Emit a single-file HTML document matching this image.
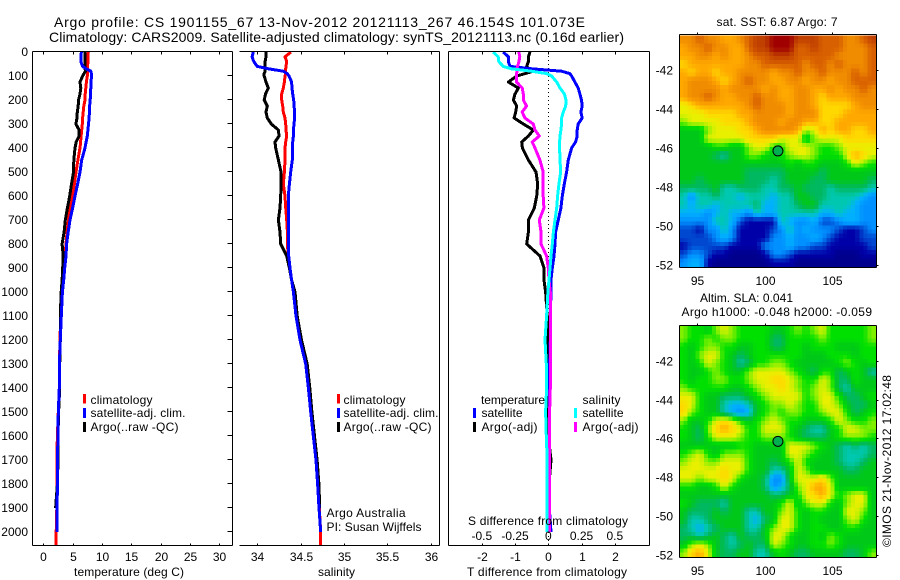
<!DOCTYPE html>
<html lang="en">
<head>
<meta charset="utf-8">
<title>Argo profile 1901155_67</title>
<style>
html,body{margin:0;padding:0;background:#fff;width:900px;height:580px;overflow:hidden}
svg{display:block;font-family:"Liberation Sans",sans-serif;font-size:12px;fill:#000}
</style>
</head>
<body>
<svg id="fig" xmlns="http://www.w3.org/2000/svg" width="900" height="580" viewBox="0 0 900 580">
<rect width="900" height="580" fill="#fff"/>
<g id="maps"></g>
<g id="series"></g>
<g id="axes" shape-rendering="crispEdges"></g>
<g id="ticklabels"></g>

<text x="54" y="27" font-size="14" textLength="531">Argo profile: CS 1901155_67 13-Nov-2012 20121113_267 46.154S 101.073E</text>
<text x="49" y="42" font-size="14" textLength="575">Climatology: CARS2009. Satellite-adjusted climatology: synTS_20121113.nc (0.16d earlier)</text>

<text x="74" y="576" textLength="110">temperature (deg C)</text>
<text x="318" y="576" textLength="37">salinity</text>
<text x="467" y="576" textLength="160">T difference from climatology</text>
<text x="468" y="525" textLength="160">S difference from climatology</text>

<g shape-rendering="crispEdges">
<rect x="83" y="394" width="3" height="9.5" fill="#f00"/>
<rect x="83" y="408" width="3" height="10" fill="#00f"/>
<rect x="83" y="422" width="3" height="10" fill="#000"/>
</g>
<text x="90.5" y="404" textLength="62">climatology</text>
<text x="90.5" y="417" textLength="95">satellite-adj. clim.</text>
<text x="90.5" y="431" textLength="88">Argo(..raw -QC)</text>

<g shape-rendering="crispEdges">
<rect x="337" y="394" width="3" height="9.5" fill="#f00"/>
<rect x="337" y="408" width="3" height="10" fill="#00f"/>
<rect x="337" y="422" width="3" height="10" fill="#000"/>
</g>
<text x="343.5" y="404" textLength="62">climatology</text>
<text x="343.5" y="417" textLength="95">satellite-adj. clim.</text>
<text x="343.5" y="431" textLength="88">Argo(..raw -QC)</text>
<text x="326.5" y="517" textLength="79">Argo Australia</text>
<text x="326.5" y="531" textLength="95">PI: Susan Wijffels</text>

<g shape-rendering="crispEdges">
<rect x="473" y="408" width="3" height="10" fill="#00f"/>
<rect x="473" y="422" width="3" height="10" fill="#000"/>
<rect x="574" y="408" width="3" height="10" fill="#0ff"/>
<rect x="574" y="422" width="3" height="10" fill="#f0f"/>
</g>
<text x="481" y="404" textLength="64">temperature</text>
<text x="481.5" y="417" textLength="41">satellite</text>
<text x="481.5" y="431" textLength="56">Argo(-adj)</text>
<text x="582.5" y="404" textLength="38">salinity</text>
<text x="582.5" y="417" textLength="41">satellite</text>
<text x="582.5" y="431" textLength="56">Argo(-adj)</text>

<text x="716.5" y="26" textLength="121">sat. SST: 6.87 Argo: 7</text>
<text x="700" y="302" textLength="93">Altim. SLA: 0.041</text>
<text x="681.5" y="316" textLength="190.5">Argo h1000: -0.048 h2000: -0.059</text>
<text transform="translate(891,547) rotate(-90)" x="0" y="0" textLength="172">©IMOS 21-Nov-2012 17:02:48</text>
</svg>

<script>
// ---- profile data ----
const depths = [0,20,40,60,70,80,90,100,125,150,175,200,225,250,275,300,325,350,375,400,450,500,550,600,650,700,750,800,850,900,950,1000,1100,1200,1300,1400,1500,1600,1700,1800,1900,2000,2055];

const tempClim = [7.67,7.6,7.6,7.55,7.55,7.5,7.5,7.5,7.35,7.25,7.15,7.1,6.9,6.8,6.7,6.65,6.55,6.45,6.35,6.25,5.9,5.57,5.3,5.0,4.6,4.27,4.05,3.87,3.7,3.53,3.3,3.13,2.96,2.85,2.75,2.73,2.56,2.4,2.3,2.35,2.3,2.2,2.2];
const tempSat = [6.48,6.45,6.4,6.7,7.3,8.1,8.2,8.2,8.15,8.1,8.05,8.0,7.9,7.85,7.8,7.7,7.6,7.5,7.3,7.1,6.55,6.25,5.85,5.4,5.0,4.55,4.25,3.98,3.87,3.65,3.48,3.25,3.07,2.9,2.75,2.73,2.56,2.5,2.4,2.4,2.35,2.35,null];
const tempArgo = [7.1,7.1,7.1,7.1,7.1,7.2,6.95,6.7,6.25,6.4,6.25,6.0,5.95,5.8,5.75,5.55,6.1,6.1,5.6,5.4,5.2,5.15,4.8,4.5,4.1,3.75,3.55,3.2,3.4,3.3,3.2,3.05,2.9,2.9,2.8,2.8,2.6,2.5,2.5,2.4,2.1,null,null];

const salClim = [34.389,34.32,34.339,34.331,34.327,34.327,34.327,34.32,34.312,34.30,34.281,34.281,34.293,34.30,34.32,34.327,34.331,34.339,34.327,34.32,34.32,34.312,34.30,34.32,34.327,34.339,34.347,34.347,34.358,34.377,34.396,34.423,34.45,34.50,34.56,34.59,34.62,34.65,34.68,34.70,34.715,34.731,34.731];
const salSat = [33.954,33.94,33.96,34.0,34.127,34.30,34.345,34.366,34.396,34.40,34.408,34.42,34.425,34.43,34.43,34.423,34.416,34.416,34.408,34.404,34.404,34.385,34.37,34.358,34.358,34.362,34.362,34.362,34.362,34.377,34.396,34.416,34.446,34.493,34.558,34.589,34.616,34.646,34.677,34.696,34.712,34.731,null];
const salArgo = [34.10,34.10,34.09,34.09,34.09,34.09,34.08,34.08,34.10,34.127,34.095,34.08,34.115,34.10,34.115,34.162,34.243,34.25,34.204,34.212,34.243,34.273,34.273,34.27,34.262,34.243,34.262,34.27,34.339,34.37,34.396,34.435,34.46,34.51,34.575,34.605,34.63,34.66,34.69,34.71,34.72,null,null];

const diffTSat = [-1.36,-1.2,-1.2,-1.15,-0.5,0.4,0.65,0.7,0.8,0.9,0.95,1.0,1.02,0.98,1.02,0.9,0.87,0.87,0.82,0.7,0.6,0.55,0.48,0.42,0.38,0.3,0.22,0.2,0.17,0.12,0.08,0.08,0.06,0.06,0.04,0.04,0.04,0.04,0.03,0.03,0.03,0.08,null];
const diffTArgo = [-0.55,-0.6,-0.6,-0.65,-0.6,-0.45,-0.7,-0.95,-1.2,-0.9,-1.0,-1.05,-0.95,-0.98,-1.03,-0.75,-0.45,-0.6,-0.8,-0.78,-0.6,-0.37,-0.32,-0.35,-0.42,-0.6,-0.6,-0.65,-0.25,-0.13,-0.13,-0.08,-0.03,-0.03,-0.03,-0.02,-0.01,0,0.08,0.02,0.02,0.02,null];
const diffSSat = [-0.415,-0.377,-0.372,-0.339,-0.276,-0.126,-0.013,0.025,0.063,0.088,0.121,0.133,0.131,0.113,0.1,0.1,0.095,0.088,0.085,0.085,0.088,0.093,0.08,0.07,0.063,0.05,0.038,0.03,0.02,0.013,0.005,-0.003,-0.013,-0.025,-0.015,-0.013,-0.02,-0.015,-0.008,-0.01,-0.01,-0.008,null];
const diffSArgo = [-0.221,-0.214,-0.221,-0.231,-0.239,-0.234,-0.239,-0.239,-0.239,-0.196,-0.188,-0.188,-0.163,-0.196,-0.176,-0.113,-0.1,-0.068,-0.121,-0.1,-0.063,-0.038,-0.038,-0.038,-0.033,-0.068,-0.055,-0.055,-0.013,0,0.005,0.015,0.015,0.015,0.015,0.015,0.01,0.01,0.01,0.01,0.01,0.01,null];

// ---- tick labels ----
const depthTicks = [0,100,200,300,400,500,600,700,800,900,1000,1100,1200,1300,1400,1500,1600,1700,1800,1900,2000];
const tempTicks = [0,5,10,15,20,25,30];
const salTicks = [34,34.5,35,35.5,36];
const diffTTicks = [-2,-1,0,1,2];
const diffSTicks = [-0.5,-0.25,0,0.25,0.5];
const lonTicks = [95,100,105];
const latTicks = [-42,-44,-46,-48,-50,-52];

// ---- map data (colour level per cell, north to south, west to east) ----
const argoLon = 101.0;
const argoLat = -46.15;
const sstLevels = [
[13,13,14,13,13,12,12,13,14,15,15,16,16,16,15,15,15,14,14,14,13,13,14,15],
[12,13,13,14,13,13,12,12,14,15,15,16,16,16,14,14,15,14,14,14,13,13,13,14],
[12,12,13,13,12,13,12,12,13,14,14,15,15,15,14,14,14,14,14,13,13,13,13,14],
[11,12,12,12,12,12,12,12,13,13,14,14,14,14,14,13,14,14,13,14,13,13,13,14],
[12,11,12,12,11,12,12,13,13,13,13,12,13,13,14,13,13,14,13,13,13,14,13,14],
[12,13,13,13,12,11,12,13,14,13,13,12,12,13,13,12,13,13,12,13,13,14,14,14],
[12,13,13,13,13,12,13,13,13,13,12,13,12,12,13,13,12,12,13,12,13,13,14,13],
[12,13,13,14,13,12,12,13,13,14,13,13,12,12,13,13,12,11,12,12,12,13,13,13],
[10,11,12,12,12,12,12,12,13,14,13,13,13,12,13,13,12,11,11,11,11,12,13,13],
[10,10,10,11,11,11,11,12,12,13,13,13,13,12,13,13,13,11,11,11,12,12,12,12],
[9,10,10,10,10,11,11,11,12,13,13,13,12,13,13,12,12,11,11,12,12,12,12,12],
[7,7,7,9,10,10,10,11,11,12,13,13,13,13,12,9,10,12,11,12,12,11,11,12],
[7,7,7,10,10,10,10,10,11,11,11,11,10,10,10,7,9,10,10,10,11,11,11,11],
[7,7,7,7,8,8,7,7,9,10,10,8,8,10,10,10,9,8,8,9,10,10,10,10],
[7,7,7,7,6,5,7,7,9,9,8,7,8,9,10,10,9,8,8,8,10,12,11,10],
[7,7,7,7,7,7,7,7,7,7,7,7,7,8,7,8,8,7,7,7,8,10,9,8],
[7,7,7,7,7,7,7,7,6,6,6,6,6,7,7,7,7,6,7,7,7,7,7,7],
[7,7,6,7,7,7,7,7,6,6,6,5,6,7,7,7,6,6,7,7,7,7,7,6],
[6,6,6,6,7,5,5,6,6,6,5,5,6,6,7,6,6,6,5,6,6,6,6,5],
[5,3,5,5,6,5,5,4,5,5,5,4,5,5,7,7,6,6,5,5,5,5,4,3],
[5,4,5,5,4,5,5,5,5,6,4,4,5,5,6,7,7,5,5,5,5,4,3,3],
[4,4,4,3,4,5,4,4,3,5,4,4,5,5,5,5,5,4,4,5,4,4,3,3],
[3,3,3,3,5,5,4,2,1,1,1,1,5,4,3,3,4,2,2,3,4,4,3,3],
[2,2,1,3,3,5,3,1,1,1,1,2,3,5,3,4,3,3,3,2,1,1,2,3],
[2,2,2,2,3,4,3,1,1,1,1,3,3,4,3,3,4,3,2,1,1,1,2,2],
[1,2,2,2,2,2,1,1,1,1,3,3,3,4,3,3,2,2,1,1,1,1,1,2],
[2,3,3,2,1,1,0,0,0,0,1,3,3,2,1,1,1,1,1,0,0,0,1,1],
[3,4,4,1,0,0,0,0,0,0,0,1,1,1,0,0,0,0,0,0,0,0,0,0]
];
const slaLevels = [
[9,8,8,7,9,10,9,8,8,8,8,7,7,8,9,8,9,10,8,8,8,8,8,9],
[9,8,8,9,8,9,9,8,8,8,8,6,6,8,8,8,8,9,8,8,8,8,8,9],
[8,7,8,9,9,8,8,7,7,8,8,6,6,8,8,7,8,8,8,7,7,7,8,8],
[8,7,9,10,10,8,7,6,7,8,8,8,8,8,8,7,7,7,8,8,8,7,8,8],
[8,7,8,10,9,8,7,5,6,8,8,9,9,8,7,7,7,7,7,8,9,8,7,8],
[8,7,7,8,9,8,7,7,9,10,10,10,10,9,8,7,6,8,8,6,7,8,7,5],
[8,7,8,8,9,9,8,8,9,10,10,11,11,10,9,8,8,10,9,6,6,8,7,7],
[9,8,8,8,8,8,7,7,8,9,10,10,11,10,9,8,9,10,9,6,5,7,7,7],
[10,10,8,7,7,6,6,6,7,8,9,10,10,10,10,8,9,10,10,8,6,6,7,8],
[11,10,8,7,7,5,4,4,5,7,8,9,9,10,9,8,8,10,10,9,7,6,6,7],
[11,9,8,7,7,5,4,3,4,7,8,9,8,9,9,8,8,9,10,10,8,6,7,8],
[9,7,7,8,10,11,10,8,7,8,9,10,9,8,8,7,7,7,8,10,9,8,8,9],
[8,7,6,9,11,12,11,10,8,8,10,10,10,8,7,6,5,5,7,8,10,10,9,9],
[8,7,6,8,10,10,10,9,8,8,9,9,9,8,7,6,6,6,7,8,9,9,9,8],
[7,7,7,7,7,7,7,8,8,7,7,7,7,10,10,10,9,8,7,6,5,6,5,6],
[8,9,10,8,7,9,9,9,8,7,7,7,7,10,10,9,8,7,7,6,5,5,5,6],
[9,10,10,9,9,10,10,10,8,7,7,6,7,8,10,8,7,7,7,6,5,5,6,7],
[10,10,10,10,10,11,10,10,8,7,7,5,5,7,10,9,7,7,7,7,6,6,7,7],
[10,10,9,10,10,11,10,8,7,7,6,3,3,7,10,10,10,11,9,7,7,7,7,7],
[8,8,7,7,8,10,8,7,7,7,6,3,4,6,9,10,12,12,10,7,7,7,7,7],
[7,7,7,7,7,7,7,7,7,7,7,6,6,7,8,10,11,12,10,8,9,10,10,7],
[8,7,6,6,6,5,7,7,7,7,7,7,8,10,7,9,10,10,8,7,9,10,10,7],
[7,6,6,6,7,6,7,7,5,5,7,7,9,10,8,7,8,8,7,7,10,10,9,7],
[7,5,5,6,7,7,7,7,5,4,6,7,10,10,8,7,8,7,7,7,9,10,8,7],
[6,5,4,5,6,7,7,7,5,5,7,9,10,10,8,7,8,8,7,7,8,8,7,7],
[6,6,5,6,7,6,5,7,6,6,7,10,10,8,7,7,8,7,9,8,7,7,7,7],
[7,9,10,9,7,6,5,6,7,6,6,10,9,8,7,7,8,8,9,8,7,7,7,7],
[9,11,12,10,7,6,6,7,7,5,5,7,8,7,6,6,7,7,7,7,6,6,7,9]
];

// ---- scales ----
const NS = 'http://www.w3.org/2000/svg';
const mapColors = ['#00008c','#0000a8','#0048d0','#0090ff','#00b0ff','#00c8b0','#00b860','#00c818','#00e000','#80f000','#e8f000','#ffd800','#ffa800','#f08c00','#d86000','#c04000','#a00000'];
function colorAt(level) {
  const i = Math.max(0, Math.min(mapColors.length - 2, Math.floor(level)));
  const t = Math.max(0, Math.min(1, level - i));
  const a = mapColors[i], b = mapColors[i + 1];
  let out = 'rgb(';
  for (let k = 0; k < 3; k++) {
    const ca = parseInt(a.substr(1 + 2 * k, 2), 16);
    const cb = parseInt(b.substr(1 + 2 * k, 2), 16);
    out += Math.round(ca + (cb - ca) * t) + (k < 2 ? ',' : ')');
  }
  return out;
}
function linear(d0, d1, p0, p1) { return v => p0 + (v - d0) * (p1 - p0) / (d1 - d0); }
const yDepth = linear(0, 2000, 52, 532);
const xTemp = linear(0, 30, 43.3, 219.3);
const xSal = linear(34, 36, 257.3, 430.7);
const xDT = linear(-2, 2, 481.8, 614.8);
const xDS = linear(-0.5, 0.5, 481.8, 614.8);
const xLon = linear(95, 105, 697.3, 831.7);
const ySst = linear(-42, -52, 70, 265);
const ySla = linear(-42, -52, 360.7, 555);

function make(tag, attrs, parent, text) {
  const el = document.createElementNS(NS, tag);
  for (const k in attrs) el.setAttribute(k, attrs[k]);
  if (text !== undefined) el.textContent = text;
  parent.appendChild(el);
  return el;
}

// ---- series ----
const seriesG = document.getElementById('series');
function drawSeries(values, xf, color, name, strokeW) {
  const pts = [];
  values.forEach((v, i) => { if (v !== null) pts.push(xf(v).toFixed(1) + ',' + yDepth(depths[i]).toFixed(1)); });
  const el = make('polyline', {points: pts.join(' '), fill: 'none', stroke: color, 'stroke-width': strokeW, 'stroke-linejoin': 'round', 'shape-rendering': 'crispEdges'}, seriesG);
  
  
}
drawSeries(tempClim, xTemp, '#f00', 'temperature-climatology-line', 3);
drawSeries(tempArgo, xTemp, '#000', 'temperature-argo-line', 3);
drawSeries(tempSat, xTemp, '#00f', 'temperature-satellite-line', 3);
drawSeries(salClim, xSal, '#f00', 'salinity-climatology-line', 3);
drawSeries(salArgo, xSal, '#000', 'salinity-argo-line', 3);
drawSeries(salSat, xSal, '#00f', 'salinity-satellite-line', 3);

const zeroLine = make('line', {x1: xDT(0), x2: xDT(0), y1: 52, y2: 545, stroke: '#000', 'stroke-width': 1, 'stroke-dasharray': '1 3', 'shape-rendering': 'crispEdges'}, seriesG);



drawSeries(diffTArgo, xDT, '#000', 'difference-temperature-argo-line', 3);
drawSeries(diffTSat, xDT, '#00f', 'difference-temperature-satellite-line', 3);
drawSeries(diffSArgo, xDS, '#f0f', 'difference-salinity-argo-line', 3);
drawSeries(diffSSat, xDS, '#0ff', 'difference-salinity-satellite-line', 3);

// ---- axes ----
const axesG = document.getElementById('axes');
const labelsG = document.getElementById('ticklabels');
function seg(x1, y1, x2, y2, name) {
  const el = make('line', {x1: x1, y1: y1, x2: x2, y2: y2, stroke: '#000', 'stroke-width': 1}, axesG);
  
  
}
function tickLabel(x, y, text, anchor, name) {
  const el = make('text', {x: x, y: y, 'text-anchor': anchor}, labelsG, text);
  
  
}
function frame(l, r, t, b, name, hasLeft) {
  seg(l, t, r, t, name + '-top-spine');
  seg(l, b, r, b, name + '-bottom-spine');
  seg(r, t, r, b, name + '-right-spine');
  if (hasLeft) seg(l, t, l, b, name + '-left-spine');
}
const T = 51.5, B = 545.5;
frame(32.5, 232.5, T, B, 'temperature-panel', true);
frame(239.5, 439.5, T, B, 'salinity-panel', false);
frame(448.5, 649.5, T, B, 'difference-panel', true);

depthTicks.forEach(d => {
  const y = Math.round(yDepth(d)) - 0.5;
  seg(227.5, y, 232.5, y, 'depth-tick');
  tickLabel(28, y + 4.5, String(d), 'end', 'depth-tick-label');
});
tempTicks.forEach(v => {
  const x = Math.round(xTemp(v)) + 0.5;
  seg(x, T, x, T + 3, 'temperature-top-tick');
  seg(x, B - 2, x, B, 'temperature-bottom-tick');
  tickLabel(x, 561, String(v), 'middle', 'temperature-tick-label');
});
salTicks.forEach(v => {
  const x = Math.round(xSal(v)) + 0.5;
  seg(x, T, x, T + 3, 'salinity-top-tick');
  seg(x, B - 2, x, B, 'salinity-bottom-tick');
  tickLabel(x, 561, String(v), 'middle', 'salinity-tick-label');
});
diffTTicks.forEach(v => {
  const x = Math.round(xDT(v)) + 0.5;
  seg(x, T, x, T + 3, 'difference-top-tick');
  seg(x, B - 2, x, B, 'difference-bottom-tick');
  tickLabel(x, 561, String(v), 'middle', 'temperature-difference-tick-label');
});
diffSTicks.forEach(v => {
  tickLabel(xDS(v), 540, String(v), 'middle', 'salinity-difference-tick-label');
});

// ---- maps ----
const mapsG = document.getElementById('maps');
const LON0 = 93.66, LON1 = 108.27;
const SUB = 2;
function drawMap(levels, yLat, lat0, lat1, name, labelY) {
  const g = make('g', {'shape-rendering': 'crispEdges'}, mapsG);
  
  
  const nr = levels.length, nc = levels[0].length;
  const sample = (fr, fc) => {
    const rr = Math.max(0, Math.min(nr - 1, fr - 0.5));
    const cc = Math.max(0, Math.min(nc - 1, fc - 0.5));
    const r0 = Math.floor(rr), c0 = Math.floor(cc);
    const r1 = Math.min(nr - 1, r0 + 1), c1 = Math.min(nc - 1, c0 + 1);
    const tr = rr - r0, tc = cc - c0;
    return (levels[r0][c0] * (1 - tc) + levels[r0][c1] * tc) * (1 - tr) +
           (levels[r1][c0] * (1 - tc) + levels[r1][c1] * tc) * tr;
  };
  for (let i = 0; i < nr * SUB; i++) {
    for (let j = 0; j < nc * SUB; j++) {
      const la = lat0 + (lat1 - lat0) * i / (nr * SUB);
      const lb = lat0 + (lat1 - lat0) * (i + 1) / (nr * SUB);
      const lo = LON0 + (LON1 - LON0) * j / (nc * SUB);
      const hi = LON0 + (LON1 - LON0) * (j + 1) / (nc * SUB);
      const lev = sample((i + 0.5) / SUB, (j + 0.5) / SUB);
      const cell = make('rect', {x: xLon(lo).toFixed(2), y: yLat(la).toFixed(2), width: (xLon(hi) - xLon(lo) + 0.5).toFixed(2), height: (yLat(lb) - yLat(la) + 0.5).toFixed(2), fill: colorAt(lev)}, g);
      
      
    }
  }
  const l = Math.floor(xLon(LON0)) + 0.5, rr = Math.ceil(xLon(LON1)) + 0.5;
  const t = Math.round(yLat(lat0)) - 0.5, b = Math.round(yLat(lat1)) + 0.5;
  frame(l, rr, t, b, name, true);
  lonTicks.forEach(v => {
    const x = Math.round(xLon(v)) + 0.5;
    seg(x, t - 2, x, t, name + '-lon-tick');
    tickLabel(x, labelY, String(v), 'middle', name + '-lon-label');
  });
  latTicks.forEach(v => {
    const y = Math.round(yLat(v)) + 0.5;
    seg(rr, y, rr + 2, y, name + '-lat-tick');
    tickLabel(673, y + 4, '-' + Math.abs(v), 'end', name + '-lat-label');
  });
  const mark = make('circle', {cx: xLon(argoLon), cy: yLat(argoLat), r: 5, fill: '#00b050', stroke: '#000', 'stroke-width': 1}, mapsG);
  
  
}
drawMap(sstLevels, ySst, -40.22, -52.09, 'sst-map', 285);
drawMap(slaLevels, ySla, -40.22, -52.09, 'sla-map', 575);
</script>
</body>
</html>
